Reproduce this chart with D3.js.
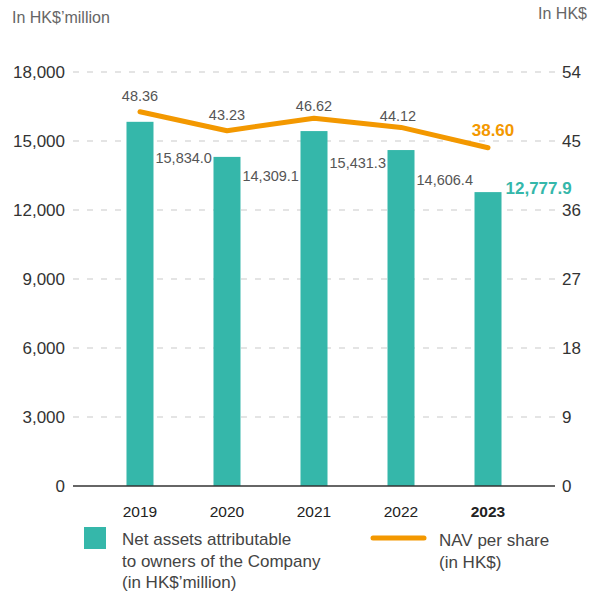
<!DOCTYPE html>
<html>
<head>
<meta charset="utf-8">
<script src="https://cdn.jsdelivr.net/npm/d3@7"></script>
<style>
  body { margin: 0; background: #fff; }
  svg text { font-family: "Liberation Sans", Arial, sans-serif; }
</style>
</head>
<body>
<div id="chart"></div>
<script>
// chart data
const years = ['2019', '2020', '2021', '2022', '2023'];
const netAssets = [15834.0, 14309.1, 15431.3, 14606.4, 12777.9];
const navPerShare = [48.36, 43.23, 46.62, 44.12, 38.60];
const leftTicks = [0, 3000, 6000, 9000, 12000, 15000, 18000];
const rightTicks = [0, 9, 18, 27, 36, 45, 54];

// label nudges (px) so the value labels sit where the original puts them
const barLabelNudge = [36, 19, 32, 30, -4];
const lineLabelNudge = [-16, -16, -12, -11, -18];

const width = 598, height = 597;
const teal = '#35b7aa', orange = '#f39800';

const svg = d3.select('#chart').append('svg')
    .attr('width', width)
    .attr('height', height);

const x = d3.scalePoint().domain(years).range([73, 555]).padding(0.77);
const yLeft = d3.scaleLinear().domain([0, 18000]).range([486, 72]);
const yRight = d3.scaleLinear().domain([0, 54]).range([486, 72]);
// the NAV line in the original is drawn on its own (compressed) scale
const yLine = d3.scaleLinear().domain([0, 54]).range([290, 91]);
const barW = 27;

// unit titles
svg.append('text').attr('x', 12).attr('y', 23)
    .attr('fill', '#666').attr('font-size', 16).text('In HK$’million');
svg.append('text').attr('x', 587).attr('y', 19).attr('text-anchor', 'end')
    .attr('fill', '#666').attr('font-size', 16).text('In HK$');

// gridlines
svg.append('g').selectAll('line')
    .data(leftTicks.filter(d => d > 0))
    .join('line')
    .attr('x1', 73).attr('x2', 555)
    .attr('y1', d => yLeft(d)).attr('y2', d => yLeft(d))
    .attr('stroke', '#dcdcdc').attr('stroke-width', 1.3)
    .attr('stroke-dasharray', '6,8');

// axes
const leftAxis = svg.append('g').attr('transform', 'translate(73,0)')
    .call(d3.axisLeft(yLeft).tickValues(leftTicks).tickFormat(d3.format(',')).tickSize(0).tickPadding(8));
const rightAxis = svg.append('g').attr('transform', 'translate(555,0)')
    .call(d3.axisRight(yRight).tickValues(rightTicks).tickSize(0).tickPadding(7));
[leftAxis, rightAxis].forEach(a => {
    a.select('.domain').remove();
    a.selectAll('text').attr('font-size', 17).attr('fill', '#333')
        .style('font-family', '"Liberation Sans", Arial, sans-serif');
});

// bars
svg.append('g').selectAll('rect')
    .data(netAssets)
    .join('rect')
    .attr('x', (d, i) => x(years[i]) - barW / 2)
    .attr('y', d => yLeft(d))
    .attr('width', barW)
    .attr('height', d => yLeft(0) - yLeft(d))
    .attr('fill', teal);

// baseline
svg.append('line')
    .attr('x1', 73).attr('x2', 555)
    .attr('y1', yLeft(0)).attr('y2', yLeft(0))
    .attr('stroke', '#333').attr('stroke-width', 1.5);

// bar value labels
svg.append('g').selectAll('text')
    .data(netAssets)
    .join('text')
    .attr('x', (d, i) => x(years[i]) + barW / 2 + (i === 4 ? 4 : 2))
    .attr('y', (d, i) => yLeft(d) + barLabelNudge[i])
    .attr('dy', '0.35em')
    .attr('font-size', (d, i) => i === 4 ? 17 : 14.5)
    .attr('font-weight', (d, i) => i === 4 ? 'bold' : 'normal')
    .attr('fill', (d, i) => i === 4 ? teal : '#555')
    .text(d => d3.format(',.1f')(d));

// NAV line
const line = d3.line()
    .x((d, i) => x(years[i]))
    .y(d => yLine(d));
svg.append('path')
    .datum(navPerShare)
    .attr('d', line)
    .attr('fill', 'none')
    .attr('stroke', orange)
    .attr('stroke-width', 5)
    .attr('stroke-linecap', 'round')
    .attr('stroke-linejoin', 'round');

svg.append('g').selectAll('text')
    .data(navPerShare)
    .join('text')
    .attr('x', (d, i) => x(years[i]) + (i === 4 ? 5 : (i === 3 ? -3 : 0)))
    .attr('y', (d, i) => yLine(d) + lineLabelNudge[i])
    .attr('dy', '0.35em')
    .attr('text-anchor', 'middle')
    .attr('font-size', (d, i) => i === 4 ? 17 : 14.5)
    .attr('font-weight', (d, i) => i === 4 ? 'bold' : 'normal')
    .attr('fill', (d, i) => i === 4 ? orange : '#555')
    .text(d => d3.format('.2f')(d));

// year labels
svg.append('g').selectAll('text')
    .data(years)
    .join('text')
    .attr('x', d => x(d))
    .attr('y', 512)
    .attr('dy', '0.35em')
    .attr('text-anchor', 'middle')
    .attr('font-size', 15.5)
    .attr('font-weight', (d, i) => i === 4 ? 'bold' : 'normal')
    .attr('fill', '#222')
    .text(d => d);

// legend
const legend = svg.append('g');
legend.append('rect').attr('x', 84).attr('y', 527).attr('width', 22).attr('height', 22).attr('fill', teal);
legend.append('text').attr('x', 122).attr('y', 545).attr('font-size', 17).attr('fill', '#444')
    .selectAll('tspan')
    .data(['Net assets attributable', 'to owners of the Company', '(in HK$’million)'])
    .join('tspan')
    .attr('x', 122)
    .attr('dy', (d, i) => i === 0 ? 0 : 21.5)
    .text(d => d);

legend.append('line').attr('x1', 373).attr('x2', 424).attr('y1', 538).attr('y2', 538)
    .attr('stroke', orange).attr('stroke-width', 5).attr('stroke-linecap', 'round');
legend.append('text').attr('x', 439).attr('y', 546).attr('font-size', 17).attr('fill', '#444')
    .selectAll('tspan')
    .data(['NAV per share', '(in HK$)'])
    .join('tspan')
    .attr('x', 439)
    .attr('dy', (d, i) => i === 0 ? 0 : 21.5)
    .text(d => d);
</script>
</body>
</html>
